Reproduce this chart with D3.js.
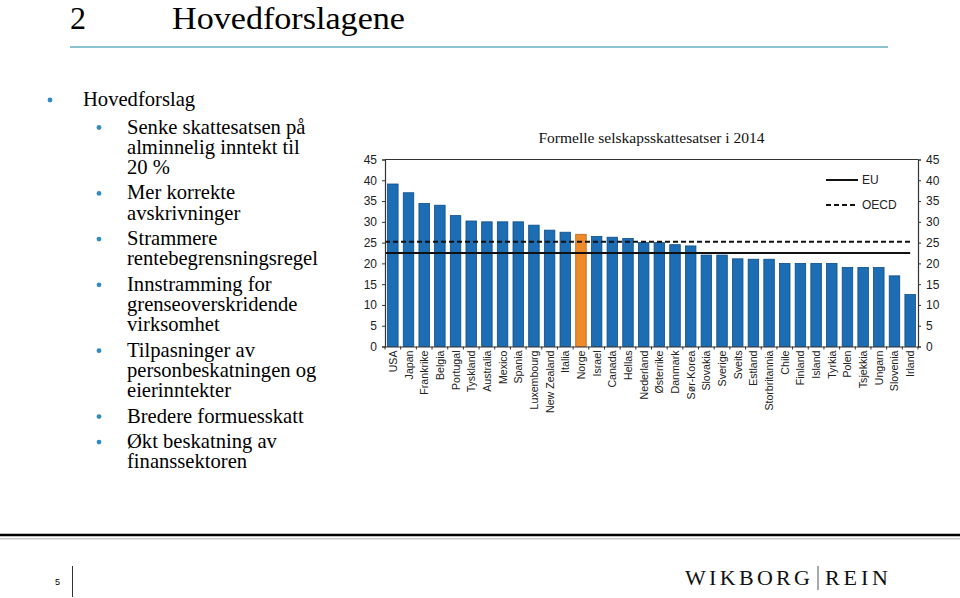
<!DOCTYPE html>
<html><head><meta charset="utf-8">
<script src="https://cdn.jsdelivr.net/npm/d3@7"></script>
<style>body{margin:0;background:#fff}svg{display:block}</style>
</head><body>
<script>
const countries = ["USA","Japan","Frankrike","Belgia","Portugal","Tyskland","Australia","Mexico","Spania","Luxembourg","New Zealand","Italia","Norge","Israel","Canada","Hellas","Nederland","Østerrike","Danmark","Sør-Korea","Slovakia","Sverige","Sveits","Estland","Storbritannia","Chile","Finland","Island","Tyrkia","Polen","Tsjekkia","Ungarn","Slovenia","Irland"];
const rates = [39.1,37.0,34.4,34.0,31.5,30.2,30.0,30.0,30.0,29.2,28.0,27.5,27.0,26.5,26.3,26.0,25.0,25.0,24.5,24.2,22.0,22.0,21.1,21.0,21.0,20.0,20.0,20.0,20.0,19.0,19.0,19.0,17.0,12.5];
const highlight = ["Norge"];
const euAvg = 22.5;
const oecdAvg = 25.2;
const yTicks = [0,5,10,15,20,25,30,35,40,45];
const chartTitle = "Formelle selskapsskattesatser i 2014";
const legendLabels = ["EU","OECD"];
const slideTitleNum = "2";
const slideTitle = "Hovedforslagene";
const bulletTop = "Hovedforslag";
const bullets = [
  ["Senke skattesatsen på","alminnelig inntekt til","20 %"],
  ["Mer korrekte","avskrivninger"],
  ["Strammere","rentebegrensningsregel"],
  ["Innstramming for","grenseoverskridende","virksomhet"],
  ["Tilpasninger av","personbeskatningen og","eierinntekter"],
  ["Bredere formuesskatt"],
  ["Økt beskatning av","finanssektoren"]
];
const pageNum = "5";

(function(){
const W = 960, H = 598;
const svg = d3.select("body").append("svg").attr("width", W).attr("height", H);
const serif = "'Liberation Serif','Times New Roman',serif";
const sans = "'Liberation Sans',Arial,sans-serif";

// slide header
svg.append("text").attr("x",70).attr("y",29).attr("font-family",serif).attr("font-size",32).attr("fill","#000").text(slideTitleNum);
svg.append("text").attr("x",172).attr("y",29).attr("font-family",serif).attr("font-size",32).attr("fill","#000")
  .attr("textLength",233).attr("lengthAdjust","spacingAndGlyphs").text(slideTitle);
svg.append("line").attr("x1",70).attr("x2",888).attr("y1",47).attr("y2",47).attr("stroke","#8cc3d0").attr("stroke-width",2);

// bullets
const bulletColor = "#2f8cc6";
const bfs = 20.6;
svg.append("circle").attr("cx",50).attr("cy",100).attr("r",2.4).attr("fill",bulletColor);
svg.append("text").attr("x",83).attr("y",106).attr("font-family",serif).attr("font-size",bfs).text(bulletTop);
let yy = 133.5;
bullets.forEach((item)=>{
  svg.append("circle").attr("cx",99).attr("cy",yy-6).attr("r",2.4).attr("fill",bulletColor);
  item.forEach((line,j)=>{
    svg.append("text").attr("x",127).attr("y",yy+j*20.2).attr("font-family",serif).attr("font-size",bfs).attr("fill","#000").text(line);
  });
  yy += (item.length-1)*20.2 + 25.5;
});

// chart
const pL = 385, pR = 918, pT = 159.5, pB = 346.5;
const x = d3.scaleBand().domain(countries).range([pL,pR]).paddingInner(0.33).paddingOuter(0.165);
const yS = d3.scaleLinear().domain([0,45]).range([pB,pT]);

svg.append("text").attr("x",(pL+pR)/2).attr("y",142.5).attr("text-anchor","middle")
  .attr("font-family",serif).attr("font-size",15.5).attr("fill","#111").text(chartTitle);

const g = svg.append("g");
g.selectAll("rect.bar").data(countries).join("rect").attr("class","bar")
  .attr("x",d=>x(d)).attr("width",x.bandwidth())
  .attr("y",(d,i)=>yS(rates[i])).attr("height",(d,i)=>yS(0)-yS(rates[i]))
  .attr("fill",d=>highlight.includes(d)?"#ef8a2b":"#1c6db3")
  .attr("stroke",d=>highlight.includes(d)?"#b8641a":"#0f4c86").attr("stroke-width",0.8);

// average lines
const lineX1 = pL, lineX2 = x(countries[countries.length-1]) + x.bandwidth()/2;
g.append("line").attr("x1",lineX1).attr("x2",lineX2).attr("y1",yS(oecdAvg)).attr("y2",yS(oecdAvg))
  .attr("stroke","#111").attr("stroke-width",2).attr("stroke-dasharray","5,3");
g.append("line").attr("x1",lineX1).attr("x2",lineX2).attr("y1",yS(euAvg)).attr("y2",yS(euAvg))
  .attr("stroke","#111").attr("stroke-width",2);

// frame & axes
const fs = 12;
const la = svg.append("g").attr("transform",`translate(${pL},0)`)
  .call(d3.axisLeft(yS).tickValues(yTicks).tickSize(3).tickPadding(5));
const ra = svg.append("g").attr("transform",`translate(${pR},0)`)
  .call(d3.axisRight(yS).tickValues(yTicks).tickSize(3).tickPadding(5));
[la,ra].forEach(a=>{
  a.selectAll("text").attr("font-family",sans).attr("font-size",fs).attr("fill","#222");
  a.selectAll("line").attr("stroke","#333");
  a.select(".domain").attr("stroke","#333").attr("stroke-width",1.2);
});
svg.append("line").attr("x1",pL).attr("x2",pR).attr("y1",pT).attr("y2",pT).attr("stroke","#333").attr("stroke-width",1.2);
const ba = svg.append("g").attr("transform",`translate(0,${pB})`)
  .call(d3.axisBottom(x).tickSize(0).tickPadding(0));
ba.select(".domain").attr("stroke","#333").attr("stroke-width",1.2);
ba.selectAll("text").attr("font-family",sans).attr("font-size",10.6).attr("fill","#222")
  .attr("text-anchor","end").attr("dy",null).attr("y",0)
  .attr("transform","translate(4,4) rotate(-90)");
// boundary ticks
const step = x.step();
const bounds = countries.map(d=>x(d)-step*x.paddingInner()/2).concat([x(countries[countries.length-1])+x.bandwidth()+step*x.paddingInner()/2]);
svg.append("g").selectAll("line").data(bounds).join("line")
  .attr("x1",d=>d).attr("x2",d=>d).attr("y1",pB).attr("y2",pB+3).attr("stroke","#333");

// legend
const lg = svg.append("g");
lg.append("line").attr("x1",826).attr("x2",858).attr("y1",180).attr("y2",180).attr("stroke","#111").attr("stroke-width",2);
lg.append("line").attr("x1",826).attr("x2",858).attr("y1",205).attr("y2",205).attr("stroke","#111").attr("stroke-width",2).attr("stroke-dasharray","5,3");
lg.append("text").attr("x",862).attr("y",184).attr("font-family",sans).attr("font-size",fs).attr("fill","#222").text(legendLabels[0]);
lg.append("text").attr("x",862).attr("y",209).attr("font-family",sans).attr("font-size",fs).attr("fill","#222").text(legendLabels[1]);

// footer
svg.append("line").attr("x1",0).attr("x2",W).attr("y1",535).attr("y2",535).attr("stroke","#000").attr("stroke-width",2.5);
svg.append("line").attr("x1",0).attr("x2",W).attr("y1",538.8).attr("y2",538.8).attr("stroke","#b0b0b0").attr("stroke-width",1);
svg.append("text").attr("x",55).attr("y",585).attr("font-family",sans).attr("font-size",9).attr("fill","#000").text(pageNum);
svg.append("line").attr("x1",72.5).attr("x2",72.5).attr("y1",566).attr("y2",597).attr("stroke","#333").attr("stroke-width",1);
const wr = svg.append("g").attr("font-family",serif).attr("font-size",22).attr("fill","#111");
wr.append("text").attr("x",685).attr("y",585).attr("textLength",125).attr("lengthAdjust","spacing").text("WIKBORG");
svg.append("line").attr("x1",818).attr("x2",818).attr("y1",566).attr("y2",590).attr("stroke","#555").attr("stroke-width",1);
wr.append("text").attr("x",825).attr("y",585).attr("textLength",63).attr("lengthAdjust","spacing").text("REIN");
})();
</script>
</body></html>
